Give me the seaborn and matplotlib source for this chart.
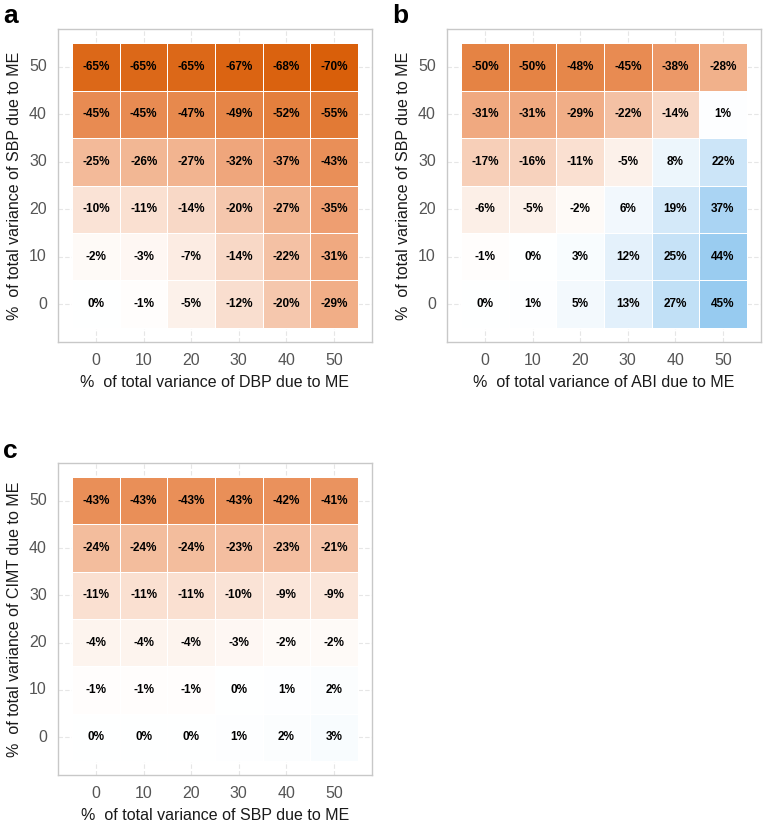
import numpy as np
import pandas as pd
import matplotlib
matplotlib.use("Agg")
import matplotlib.pyplot as plt
from matplotlib.colors import LinearSegmentedColormap
import seaborn as sns

sns.set_style("white")
plt.rcParams["font.family"] = ["Liberation Sans", "DejaVu Sans"]

levels = [0, 10, 20, 30, 40, 50]

# rows listed from y=50 (top) down to y=0 (bottom)
row_labels = [50, 40, 30, 20, 10, 0]

vals_a = [
    [-65, -65, -65, -67, -68, -70],
    [-45, -45, -47, -49, -52, -55],
    [-25, -26, -27, -32, -37, -43],
    [-10, -11, -14, -20, -27, -35],
    [-2, -3, -7, -14, -22, -31],
    [0, -1, -5, -12, -20, -29],
]
vals_b = [
    [-50, -50, -48, -45, -38, -28],
    [-31, -31, -29, -22, -14, 1],
    [-17, -16, -11, -5, 8, 22],
    [-6, -5, -2, 6, 19, 37],
    [-1, 0, 3, 12, 25, 44],
    [0, 1, 5, 13, 27, 45],
]
vals_c = [
    [-43, -43, -43, -43, -42, -41],
    [-24, -24, -24, -23, -23, -21],
    [-11, -11, -11, -10, -9, -9],
    [-4, -4, -4, -3, -2, -2],
    [-1, -1, -1, 0, 1, 2],
    [0, 0, 0, 1, 2, 3],
]

panels = [
    ("a", vals_a, "%  of total variance of DBP due to ME", "%  of total variance of SBP due to ME"),
    ("b", vals_b, "%  of total variance of ABI due to ME", "%  of total variance of SBP due to ME"),
    ("c", vals_c, "%  of total variance of SBP due to ME", "%  of total variance of CIMT due to ME"),
]

W, H = 765, 826
fig = plt.figure(figsize=(W / 100, H / 100), dpi=100)

# panel boxes in pixels: (left, top, right, bottom)
boxes = [(58, 29, 372, 342), (447, 29, 761, 342), (58, 463, 372, 775)]
letter_pos = [(3, 23), (392, 23), (3, 458)]

cmap = LinearSegmentedColormap.from_list(
    "div",
    [(0.0, "#D95F0A"), (0.25, "#EE9E70"), (0.5, "#FFFFFF"), (1.0, "#5FAEE8")])

for (letter, vals, xl, yl), (l, t, r, b), (lx, ly) in zip(panels, boxes, letter_pos):
    ax = fig.add_axes([l / W, 1 - b / H, (r - l) / W, (b - t) / H])
    df = pd.DataFrame(vals, index=row_labels, columns=levels)
    labels = df.map(lambda v: f"{v}%")
    # grid lines beneath heatmap
    for k in range(6):
        ax.axvline(k + 0.5, color="#E6E6E6", lw=0.8, ls=(0, (4, 2)), zorder=0)
        ax.axhline(k + 0.5, color="#E6E6E6", lw=0.8, ls=(0, (4, 2)), zorder=0)
    sns.heatmap(df, ax=ax, cmap=cmap, vmin=-70, vmax=70, center=0,
                annot=labels, fmt="", cbar=False,
                linewidths=0.6, linecolor="white",
                annot_kws={"color": "black", "fontsize": 8.5, "fontweight": "bold"})
    ax.set_xlim(-0.3, 6.3)
    ax.set_ylim(6.3, -0.3)
    ax.set_xticks(np.arange(6) + 0.5)
    ax.set_xticklabels([str(v) for v in levels])
    ax.set_yticks(np.arange(6) + 0.5)
    ax.set_yticklabels([str(v) for v in row_labels], rotation=0)
    ax.tick_params(axis="both", length=0, labelsize=11.5, labelcolor="#555555")
    ax.tick_params(axis="x", pad=8)
    ax.tick_params(axis="y", pad=8)
    for s in ax.spines.values():
        s.set_visible(True)
        s.set_color("#C8C8C8")
        s.set_linewidth(1.0)
    ax.set_xlabel(xl, fontsize=11.5, color="#1A1A1A", labelpad=5)
    ax.set_ylabel(yl, fontsize=11.5, color="#1A1A1A", labelpad=5)
    fig.text(lx / W, 1 - ly / H, letter, fontsize=19, fontweight="bold",
             ha="left", va="baseline", color="black")

fig.savefig("out.png", dpi=100)
